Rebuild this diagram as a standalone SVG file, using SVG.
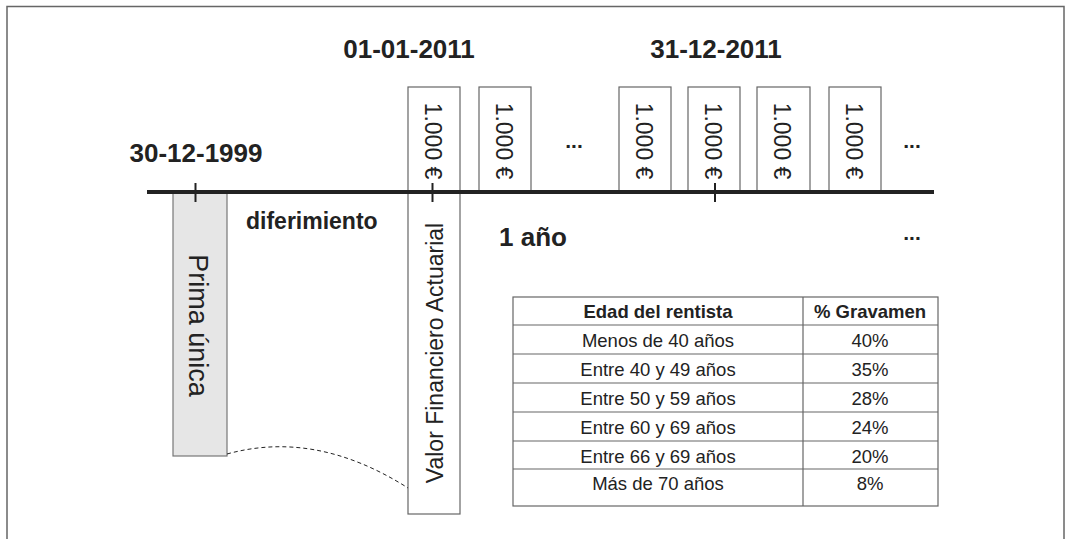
<svg xmlns="http://www.w3.org/2000/svg" width="1067" height="539" viewBox="0 0 1067 539">
<style>
  .frame{fill:none;stroke:#666;stroke-width:1.5}
  .box{fill:#fff;stroke:#666;stroke-width:1.2}
  .prima{fill:#e6e6e6;stroke:#777;stroke-width:1.2}
  .axis{stroke:#222;stroke-width:4;fill:none}
  .tick{stroke:#222;stroke-width:2}
  .date{font-family:"Liberation Sans",Arial,sans-serif;font-weight:bold;font-size:26px;fill:#222}
  .lbl{font-family:"Liberation Sans",Arial,sans-serif;font-weight:bold;fill:#222}
  .pay{font-family:"Liberation Sans",Arial,sans-serif;font-size:23px;fill:#222;text-anchor:middle}
  .vert{font-family:"Liberation Sans",Arial,sans-serif;fill:#222;text-anchor:middle}
  .tline{stroke:#666;stroke-width:1.2;fill:none}
  .th{font-family:"Liberation Sans",Arial,sans-serif;font-weight:bold;font-size:18.5px;fill:#222;text-anchor:middle}
  .td{font-family:"Liberation Sans",Arial,sans-serif;font-size:18.5px;fill:#222;text-anchor:middle}
  .dash{fill:none;stroke:#222;stroke-width:1;stroke-dasharray:4 3}
</style>
<rect class="frame" x="7" y="6.5" width="1057" height="560"/>

<g id="prima-unica">
  <rect class="prima" x="173" y="192" width="54" height="264"/>
  <text class="vert" font-size="27" transform="translate(189,325.5) rotate(90)">Prima única</text>
</g>

<g id="valor-financiero">
  <rect class="box" x="408" y="87" width="52" height="427"/>
  <text class="pay" transform="translate(425,141) rotate(90)">1.000 €</text>
  <text class="vert" font-size="23" transform="translate(443,353) rotate(-90)">Valor Financiero Actuarial</text>
</g>

<g id="pago-2">
  <rect class="box" x="479" y="87" width="52" height="105"/>
  <text class="pay" transform="translate(496,141) rotate(90)">1.000 €</text>
</g>
<g id="pago-3">
  <rect class="box" x="619" y="87" width="52" height="105"/>
  <text class="pay" transform="translate(636,141) rotate(90)">1.000 €</text>
</g>
<g id="pago-4">
  <rect class="box" x="688" y="87" width="52" height="105"/>
  <text class="pay" transform="translate(705,141) rotate(90)">1.000 €</text>
</g>
<g id="pago-5">
  <rect class="box" x="757" y="87" width="53" height="105"/>
  <text class="pay" transform="translate(774,141) rotate(90)">1.000 €</text>
</g>
<g id="pago-6">
  <rect class="box" x="829" y="87" width="52" height="105"/>
  <text class="pay" transform="translate(846,141) rotate(90)">1.000 €</text>
</g>

<g id="timeline">
  <line class="axis" x1="147" y1="192" x2="934" y2="192"/>
  <line class="tick" x1="195.5" y1="183" x2="195.5" y2="202"/>
  <line class="tick" x1="432.5" y1="183" x2="432.5" y2="202"/>
  <line class="tick" x1="715" y1="183" x2="715" y2="202"/>
</g>

<g id="connectors">
  <path class="dash" d="M227,454 C285,438 345,448 408,488"/>
</g>

<g id="labels">
  <text class="date" x="196" y="162" text-anchor="middle">30-12-1999</text>
  <text class="date" x="409" y="58" text-anchor="middle">01-01-2011</text>
  <text class="date" x="716" y="58" text-anchor="middle">31-12-2011</text>
  <text class="lbl" font-size="23" x="246" y="229">diferimiento</text>
  <text class="lbl" font-size="26" x="499" y="246">1 año</text>
  <text class="lbl" font-size="21" x="574" y="148" text-anchor="middle">...</text>
  <text class="lbl" font-size="21" x="912" y="148" text-anchor="middle">...</text>
  <text class="lbl" font-size="21" x="912" y="240" text-anchor="middle">...</text>
</g>

<g id="tabla">
  <rect class="tline" x="513" y="297" width="425" height="209"/>
  <line class="tline" x1="803" y1="297" x2="803" y2="506"/>
  <line class="tline" x1="513" y1="325" x2="938" y2="325"/>
  <line class="tline" x1="513" y1="354" x2="938" y2="354"/>
  <line class="tline" x1="513" y1="383" x2="938" y2="383"/>
  <line class="tline" x1="513" y1="412" x2="938" y2="412"/>
  <line class="tline" x1="513" y1="441" x2="938" y2="441"/>
  <line class="tline" x1="513" y1="469" x2="938" y2="469"/>
  <text class="th" x="658" y="318">Edad del rentista</text>
  <text class="th" x="870" y="318">% Gravamen</text>
  <text class="td" x="658" y="347">Menos de 40 años</text>
  <text class="td" x="870" y="347">40%</text>
  <text class="td" x="658" y="376">Entre 40 y 49 años</text>
  <text class="td" x="870" y="376">35%</text>
  <text class="td" x="658" y="405">Entre 50 y 59 años</text>
  <text class="td" x="870" y="405">28%</text>
  <text class="td" x="658" y="434">Entre 60 y 69 años</text>
  <text class="td" x="870" y="434">24%</text>
  <text class="td" x="658" y="463">Entre 66 y 69 años</text>
  <text class="td" x="870" y="463">20%</text>
  <text class="td" x="658" y="490">Más de 70 años</text>
  <text class="td" x="870" y="490">8%</text>
</g>
</svg>
